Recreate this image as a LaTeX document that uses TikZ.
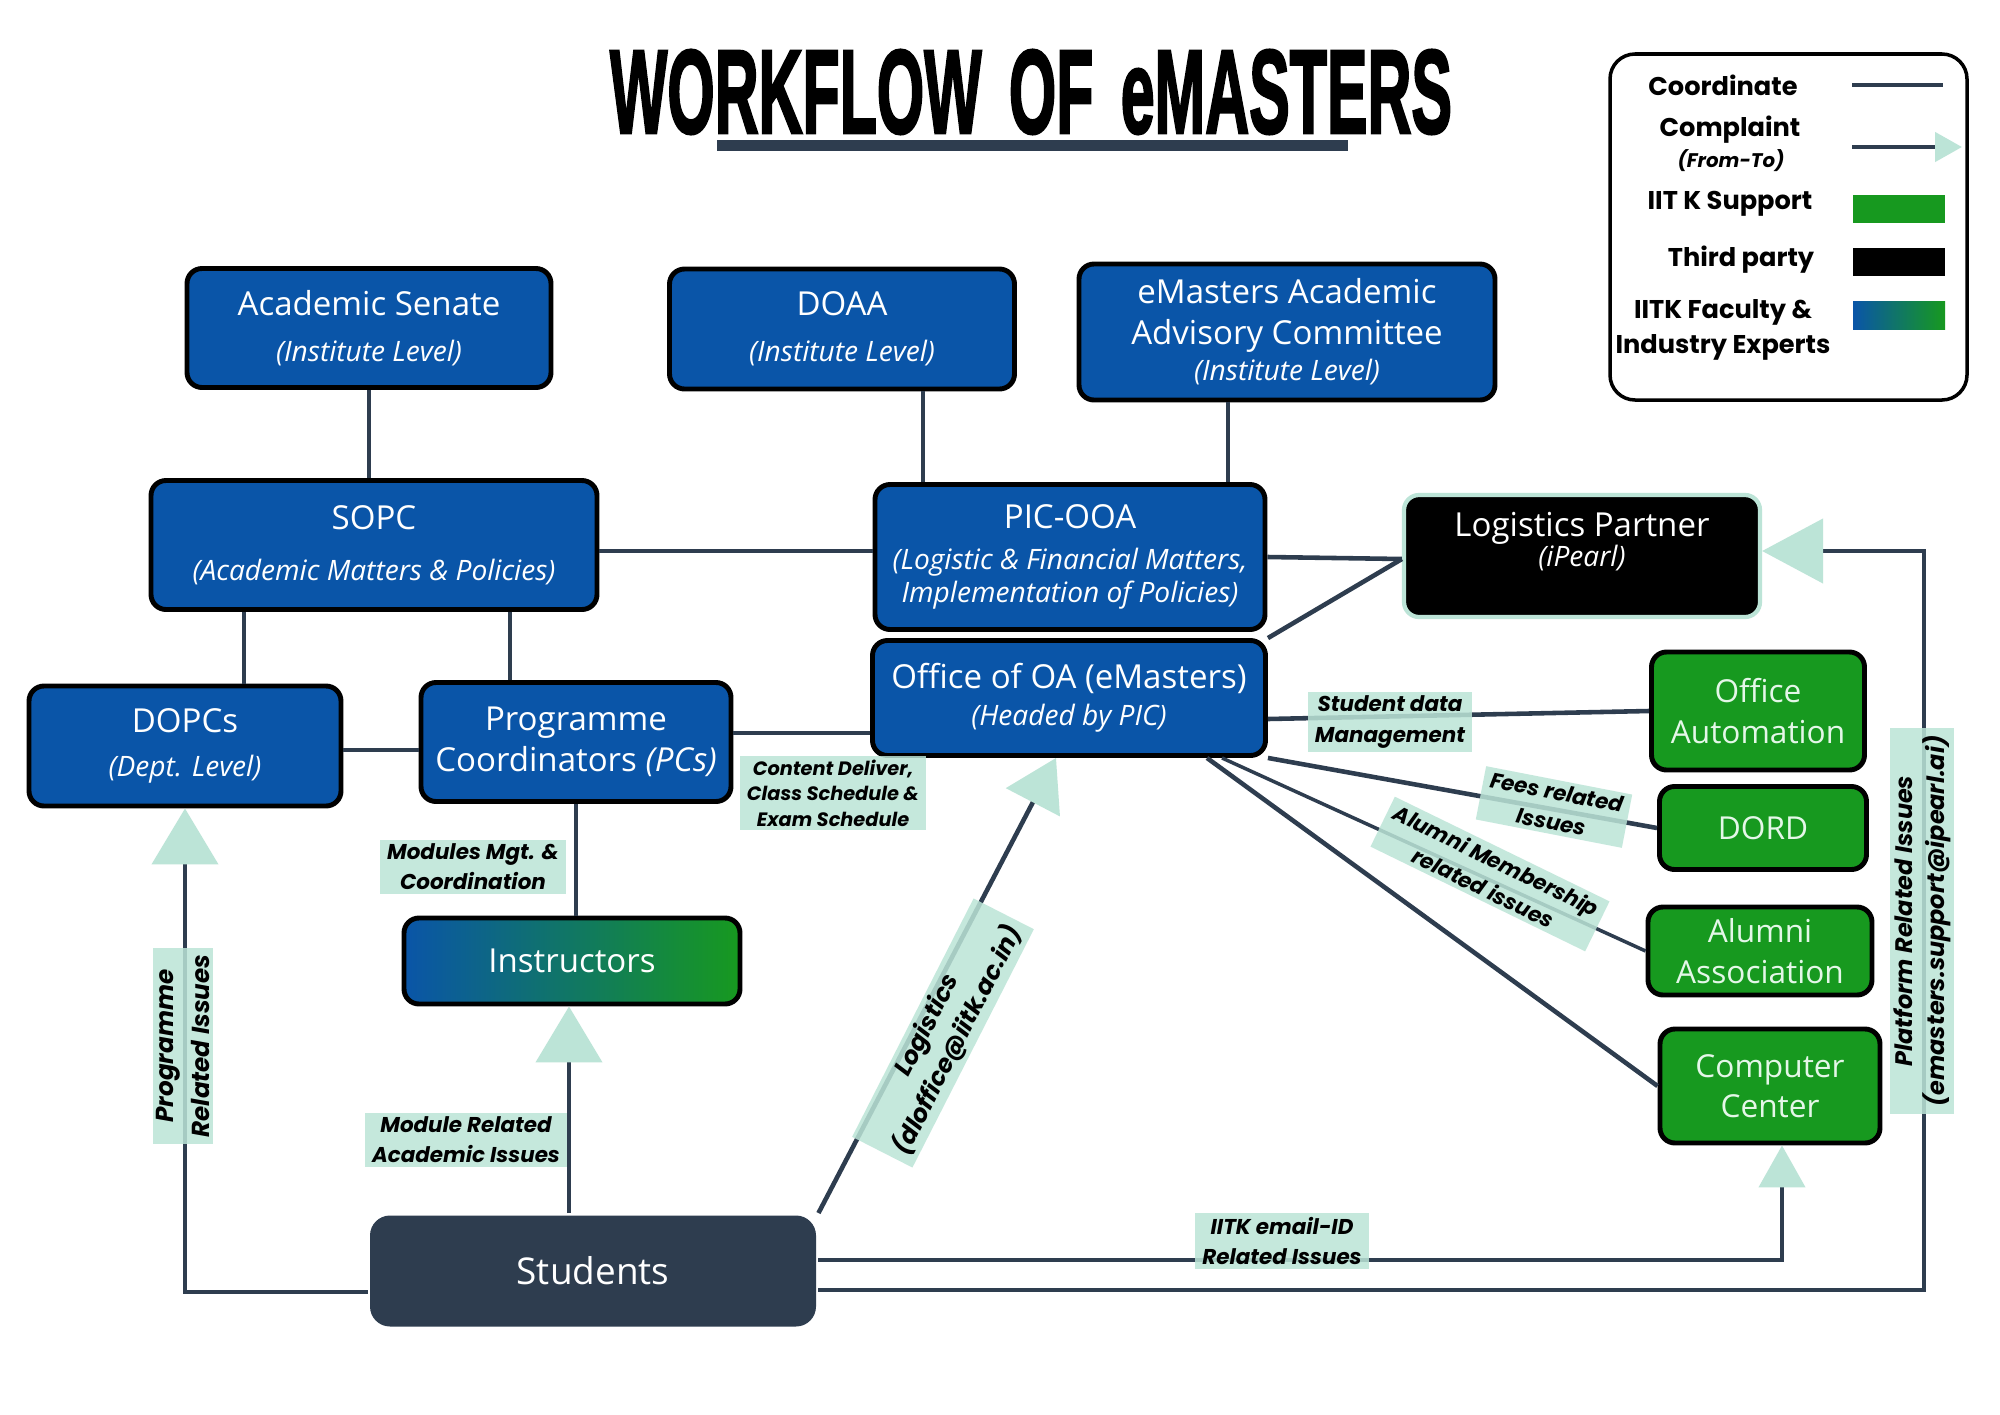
\documentclass[tikz,border=0pt]{standalone}
\usepackage{fontspec}
\usepackage{graphicx}
\setmainfont{Open Sans}
\newfontfamily\lblfont{Poppins}
\newfontfamily\titlefont[FakeBold=2.5]{Liberation Sans}
\usetikzlibrary{arrows.meta}

\definecolor{boxblue}{HTML}{0A55A8}
\definecolor{boxgreen}{HTML}{17991F}
\definecolor{slate}{HTML}{2E3D4F}
\definecolor{mint}{HTML}{BCE4D7}
\definecolor{greentext}{HTML}{E4F7E8}

\newcommand\boxsub[1]{{\itshape\fontsize{8}{10}\selectfont #1}}

\tikzset{
  unit/.style={draw=black, line width=1.4pt, rounded corners=0.15cm, text=white, align=center,
    inner sep=0pt, font=\fontsize{9.4}{11.5}\selectfont},
  bluebox/.style={unit, fill=boxblue},
  greenbox/.style={unit, fill=boxgreen, text=greentext, font=\fontsize{9}{11.5}\selectfont},
  coord/.style={draw=slate, line width=1.3pt},
  complaint/.style={coord, -{Triangle[length=0.56cm, width=0.66cm, color=mint]}},
  tag/.style={fill=mint, fill opacity=0.85, text opacity=1, text=black, align=center,
    inner xsep=0.07cm, inner ysep=0.04cm, font=\lblfont\bfseries\itshape\fontsize{6.1}{8.6}\selectfont},
  legtext/.style={align=center, font=\lblfont\bfseries\fontsize{7.3}{10}\selectfont},
  legbar/.style={minimum width=0.92cm, minimum height=0.28cm, inner sep=0pt},
}

\begin{document}
\begin{tikzpicture}
    % Page
    \fill[white] (0,0) rectangle (20,-14.14);
    \useasboundingbox (0,0) rectangle (20,-14.14);

    % Title
    \node (title) at (10.31,-0.92) {\resizebox{8.42cm}{0.83cm}{\titlefont\bfseries WORKFLOW\hspace{0.45em}OF\hspace{0.45em}eMASTERS}};
    \node[fill=slate, minimum width=6.31cm, minimum height=0.11cm, inner sep=0pt] (titlebar) at (10.325,-1.455) {};

    % Institute level
    \node[bluebox, minimum width=3.64cm, minimum height=1.19cm] (senate) at (3.69,-3.28)
        {Academic Senate\\[1.5pt]\boxsub{(Institute Level)}};
    \node[bluebox, minimum width=3.45cm, minimum height=1.20cm] (doaa) at (8.42,-3.29)
        {DOAA\\[1.5pt]\boxsub{(Institute Level)}};
    \node[bluebox, minimum width=4.16cm, minimum height=1.36cm] (eaac) at (12.87,-3.32)
        {eMasters Academic\\Advisory Committee\\[-1pt]\boxsub{(Institute Level)}};

    % Second row
    \node[bluebox, minimum width=4.46cm, minimum height=1.29cm] (sopc) at (3.74,-5.45)
        {SOPC\\[3pt]\boxsub{(Academic Matters \& Policies)}};
    \node[bluebox, minimum width=3.90cm, minimum height=1.45cm] (pic) at (10.70,-5.57)
        {PIC-OOA\\\boxsub{(Logistic \& Financial Matters,}\\[-2pt]\boxsub{Implementation of Policies)}};
    \node[unit, fill=black, draw=mint, line width=1.2pt, minimum width=3.56cm, minimum height=1.22cm] (lp) at (15.82,-5.56) {};
    \node[text=white, align=center, font=\fontsize{9.4}{11.5}\selectfont] (lptext) at (15.82,-5.42)
        {Logistics Partner\\[-3pt]\boxsub{(iPearl)}};

    % Third row
    \node[bluebox, minimum width=3.93cm, minimum height=1.15cm] (ooa) at (10.69,-6.98)
        {Office of OA (eMasters)\\[-1pt]\boxsub{(Headed by PIC)}};
    \node[bluebox, minimum width=3.12cm, minimum height=1.20cm] (dopcs) at (1.85,-7.46)
        {DOPCs\\[1pt]\boxsub{(Dept. Level)}};
    \node[bluebox, minimum width=3.10cm, minimum height=1.19cm] (pcs) at (5.76,-7.42)
        {Programme\\Coordinators \textit{(PCs)}};
    \node[unit, left color=boxblue, right color=boxgreen, minimum width=3.36cm, minimum height=0.86cm] (instr) at (5.72,-9.61)
        {Instructors};
    \node[unit, fill=slate, draw=none, rounded corners=0.2cm, minimum width=4.46cm, minimum height=1.11cm,
        font=\fontsize{10.5}{12}\selectfont] (students) at (5.93,-12.71) {Students};

    % Support units
    \node[greenbox, minimum width=2.13cm, minimum height=1.18cm] (oa) at (17.58,-7.11) {Office\\Automation};
    \node[greenbox, minimum width=2.07cm, minimum height=0.83cm] (dord) at (17.63,-8.28) {DORD};
    \node[greenbox, minimum width=2.24cm, minimum height=0.88cm] (alumni) at (17.60,-9.51) {Alumni\\Association};
    \node[greenbox, minimum width=2.20cm, minimum height=1.14cm] (cc) at (17.70,-10.86) {Computer\\Center};

    % Coordinate lines
    \draw[coord] (senate.south) -- (senate.south |- sopc.north);
    \draw[coord] ([xshift=-1.47cm]pic.north) -- ([xshift=-1.47cm]pic.north |- doaa.south);
    \draw[coord] ([xshift=1.58cm]pic.north) -- ([xshift=1.58cm]pic.north |- eaac.south);
    \draw[coord] ([yshift=-0.06cm]sopc.east) -- ([yshift=-0.06cm]sopc.east -| pic.west);
    \draw[coord] (pic.east) -- ([yshift=-0.03cm]lp.west);
    \draw[coord] (ooa.north east) -- ([yshift=-0.03cm]lp.west);
    \draw[coord] ([xshift=-1.30cm]sopc.south) -- ([xshift=-1.30cm]sopc.south |- dopcs.north);
    \draw[coord] ([xshift=1.36cm]sopc.south) -- ([xshift=1.36cm]sopc.south |- pcs.north);
    \draw[coord] ([yshift=-0.04cm]dopcs.east) -- ([yshift=-0.04cm]dopcs.east -| pcs.west);
    \draw[coord] ([yshift=0.09cm]pcs.east) -- ([yshift=0.09cm]pcs.east -| ooa.west);
    \draw[coord] (pcs.south) -- (pcs.south |- instr.north);
    \draw[coord] ([yshift=-0.21cm]ooa.east) -- (oa.west);
    \draw[coord] (ooa.south east) -- (dord.west);
    \draw[coord, line width=1pt] ([xshift=1.53cm]ooa.south) -- (alumni.west);
    \draw[coord] ([xshift=1.38cm]ooa.south) -- (cc.west);

    % Complaint lines
    \draw[complaint] ([xshift=-0.24cm]students.north) -- ([xshift=-0.24cm]students.north |- instr.south);
    \draw[complaint] ([yshift=-0.21cm]students.west) -| (dopcs.south);
    \draw[complaint, -{Triangle[length=0.5cm, width=0.6cm, color=mint]}] (students.north east) -- ([xshift=-0.13cm]ooa.south);
    \draw[complaint, -{Triangle[length=0.42cm, width=0.46cm, color=mint]}] ([yshift=0.11cm]students.east) -| ([xshift=0.12cm]cc.south);
    \draw[complaint, -{Triangle[length=0.61cm, width=0.64cm, color=mint]}] ([yshift=-0.19cm]students.east)
        -| ([xshift=1.62cm, yshift=0.05cm]lp.east) -- ([yshift=0.05cm]lp.east);

    % Labels
    \node[tag, font=\lblfont\bfseries\itshape\fontsize{5.5}{7.3}\selectfont] (lbcontent) at (8.33,-7.93)
        {Content Deliver,\\Class Schedule \&\\Exam Schedule};
    \node[tag] (lbmodules) at (4.73,-8.67) {Modules Mgt. \&\\Coordination};
    \node[tag] (lbstudent) at (13.90,-7.22) {Student data\\Management};
    \node[tag, rotate=-11] (lbfees) at (15.54,-8.07) {Fees related\\Issues};
    \node[tag, rotate=-26] (lbalumni) at (14.90,-8.74) {Alumni Membership\\related issues};
    \node[tag] (lbmodule) at (4.66,-11.40) {Module Related\\Academic Issues};
    \node[tag, rotate=90, font=\lblfont\bfseries\itshape\fontsize{7}{10}\selectfont] (lbprog) at (1.83,-10.46)
        {Programme\\Related Issues};
    \node[tag, rotate=63, font=\lblfont\bfseries\itshape\fontsize{7}{9.8}\selectfont] (lblog) at (9.43,-10.33)
        {Logistics\\(dloffice@iitk.ac.in)};
    \node[tag] (lbemail) at (12.82,-12.41) {IITK email-ID\\Related Issues};
    \node[tag, rotate=90, font=\lblfont\bfseries\itshape\fontsize{6.8}{9}\selectfont] (lbplat) at (19.22,-9.21)
        {Platform Related Issues\\(emasters.support@ipearl.ai)};

    % Legend
    \node[draw=black, line width=1pt, rounded corners=0.25cm, minimum width=3.57cm, minimum height=3.46cm] (legend) at (17.885,-2.27) {};
    \node[legtext] (lgcoord) at (17.23,-0.85) {Coordinate};
    \coordinate (lgc1) at (18.52,-0.85);
    \coordinate (lgc2) at (19.43,-0.85);
    \draw[coord] (lgc1) -- (lgc2);
    \node[legtext] (lgcompl) at (17.30,-1.30) {Complaint};
    \node[legtext, font=\lblfont\bfseries\itshape\fontsize{5.6}{7}\selectfont] (lgfromto) at (17.31,-1.61) {(From-To)};
    \coordinate (lga1) at (18.52,-1.47);
    \coordinate (lga2) at (19.62,-1.47);
    \draw[coord, -{Triangle[length=0.27cm, width=0.29cm, color=mint]}] (lga1) -- (lga2);
    \node[legtext] (lgiitk) at (17.30,-2.04) {IIT K Support};
    \node[legbar, fill=boxgreen] (lgiitkbar) at (18.99,-2.09) {};
    \node[legtext] (lgthird) at (17.41,-2.60) {Third party};
    \node[legbar, fill=black] (lgthirdbar) at (18.99,-2.615) {};
    \node[legtext] (lgfac) at (17.23,-3.30) {IITK Faculty \&\\Industry Experts};
    \node[legbar, left color=boxblue, right color=boxgreen] (lgfacbar) at (18.99,-3.155) {};
\end{tikzpicture}
\end{document}
